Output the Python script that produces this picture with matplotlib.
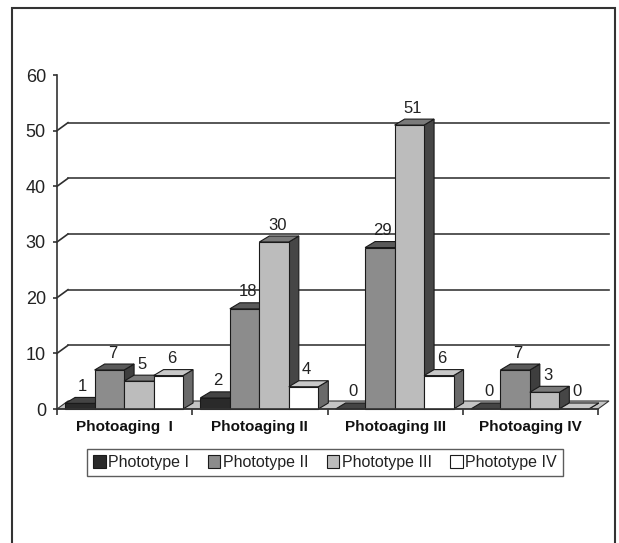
import matplotlib
matplotlib.use("Agg")
import matplotlib.pyplot as plt
from matplotlib.patches import Polygon, Patch, Rectangle
import numpy as np

plt.rcParams['font.family'] = ['Liberation Sans', 'DejaVu Sans']

# counts per photoaging grade, one list per phototype
categories = ['Photoaging  I', 'Photoaging II', 'Photoaging III', 'Photoaging IV']
series_names = ['Phototype I', 'Phototype II', 'Phototype III', 'Phototype IV']
phototype_1 = [1, 2, 0, 0]
phototype_2 = [7, 18, 29, 7]
phototype_3 = [5, 30, 51, 3]
phototype_4 = [6, 4, 6, 0]
series = [phototype_1, phototype_2, phototype_3, phototype_4]

# front / top / side shading for each series (old Excel 3-D column look)
faces = [
    ('#2a2a2a', '#444444', '#1c1c1c'),
    ('#8c8c8c', '#5a5a5a', '#3e3e3e'),
    ('#bcbcbc', '#7a7a7a', '#464646'),
    ('#ffffff', '#c8c8c8', '#6a6a6a'),
]
edge = '#1a1a1a'

W, H = 619, 543
fig = plt.figure(figsize=(W / 100, H / 100), dpi=100)
ax = fig.add_axes([57 / W, (H - 409) / H, (598 - 57) / W, (409 - 75) / H])
ax.set_xlim(0, 4)
ax.set_ylim(0, 60)
ax.set_facecolor('none')

# pixel -> data conversion for the depth offsets
px_x = 4 / ax.get_position().width / W
px_y = 60 / ax.get_position().height / H
bar_dx, bar_dy = 10 * px_x, 6 * px_y
wall_dx, wall_dy = 11 * px_x, 8 * px_y

# back wall gridlines with the slanted tick joints
for v in range(10, 60, 10):
    ax.plot([0, wall_dx], [v, v + wall_dy], color='#2e2e2e', lw=1.2, zorder=1,
            clip_on=False)
    ax.plot([wall_dx, 4 + wall_dx], [v + wall_dy, v + wall_dy], color='#3a3a3a',
            lw=1.2, zorder=1, clip_on=False)

# floor
floor = Polygon([(0, 0), (4, 0), (4 + wall_dx, wall_dy), (wall_dx, wall_dy)],
                closed=True, facecolor='#c4c4c4', edgecolor='#333333', lw=0.8,
                zorder=1.5, clip_on=False)
ax.add_patch(floor)

bar_w = 0.218
start = 0.06
z = 2
for k in range(len(categories)):
    for s, vals in enumerate(series):
        v = vals[k]
        x0 = k + start + s * bar_w
        x1 = x0 + bar_w
        front, top, side = faces[s]
        ax.add_patch(Polygon([(x1, 0), (x1 + bar_dx, bar_dy), (x1 + bar_dx, v + bar_dy), (x1, v)],
                             closed=True, facecolor=side, edgecolor=edge, lw=0.8,
                             zorder=z, clip_on=False))
        ax.add_patch(Polygon([(x0, v), (x1, v), (x1 + bar_dx, v + bar_dy), (x0 + bar_dx, v + bar_dy)],
                             closed=True, facecolor=top, edgecolor=edge, lw=0.8,
                             zorder=z, clip_on=False))
        if v > 0:
            ax.add_patch(Rectangle((x0, 0), bar_w, v, facecolor=front, edgecolor=edge,
                                   lw=0.8, zorder=z + 0.5, clip_on=False))
        ax.annotate(str(v), xy=((x0 + x1) / 2, v), xytext=(3, 17),
                    textcoords='offset pixels', ha='center', va='center',
                    fontsize=12, color='#222222', zorder=20)
        z += 1

# axes
for side in ('top', 'right'):
    ax.spines[side].set_visible(False)
ax.spines['left'].set_color('#333333')
ax.spines['bottom'].set_color('#333333')
ax.spines['left'].set_linewidth(1.2)
ax.spines['bottom'].set_linewidth(1.2)
ax.spines['left'].set_zorder(30)
ax.spines['bottom'].set_zorder(30)
ax.set_yticks(range(0, 61, 10))
ax.tick_params(axis='y', direction='out', length=3, width=1.2, color='#333333',
               labelsize=13, pad=5, labelcolor='#222222')
ax.set_xticks(np.arange(4) + 0.5)
ax.set_xticklabels(categories, fontweight='bold', fontsize=11, color='#111111')
ax.tick_params(axis='x', which='major', length=0, pad=8)
ax.set_xticks(range(5), minor=True)
ax.tick_params(axis='x', which='minor', direction='out', length=4, width=1.2,
               color='#333333')

# legend
handles = [Patch(facecolor=f[0], edgecolor=edge, lw=0.8) for f in faces]
leg = fig.legend(handles, series_names, loc='center', ncol=4,
                 bbox_to_anchor=(325 / W, (H - 462.5) / H), fontsize=11.5,
                 frameon=True, fancybox=False, handlelength=0.8, handleheight=0.8,
                 handletextpad=0.15, columnspacing=1.15, borderpad=0.35,
                 labelcolor='#222222')
leg.get_frame().set_edgecolor('#333333')
leg.get_frame().set_linewidth(1.0)

# outer frame (open at the bottom)
fig.add_artist(Rectangle((12 / W, -0.05), (615 - 12) / W, (H - 8) / H + 0.05,
                         transform=fig.transFigure, fill=False,
                         edgecolor='#333333', lw=1.5))

fig.savefig('out.png', dpi=100, facecolor='white')
